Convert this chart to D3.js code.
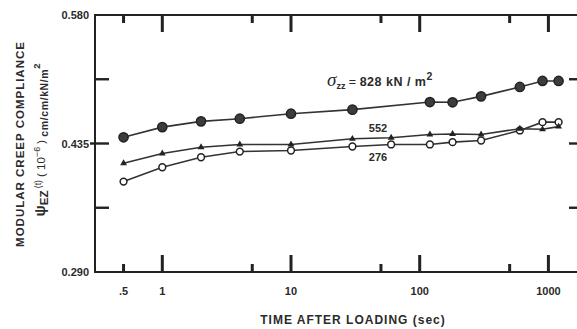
<!DOCTYPE html>
<html>
<head>
<meta charset="utf-8">
<script src="https://cdn.jsdelivr.net/npm/d3@7"></script>
<style>
body { margin: 0; background: #fff; }
svg text { font-family: "Liberation Sans", Arial, sans-serif; fill: #2b2b2b; font-weight: bold; }
</style>
</head>
<body>
<script>
window.document.addEventListener('DOMContentLoaded', init, false);

// time after loading (sec)
var times828 = [0.5, 1, 2, 4, 10, 30, 120, 180, 300, 600, 900, 1200];
var compliance828 = [0.442, 0.4535, 0.460, 0.463, 0.4686, 0.4732, 0.4818, 0.4815, 0.4882, 0.4988, 0.5056, 0.5056];

var times552 = [0.5, 1, 2, 4, 10, 30, 60, 120, 180, 300, 600, 900, 1200];
var compliance552 = [0.4127, 0.4237, 0.4308, 0.4339, 0.4339, 0.4403, 0.4415, 0.4452, 0.4458, 0.4452, 0.4517, 0.451, 0.454];

var times276 = [0.5, 1, 2, 4, 10, 30, 60, 120, 180, 300, 600, 900, 1200];
var compliance276 = [0.392, 0.4082, 0.4195, 0.4259, 0.4271, 0.4316, 0.4339, 0.4339, 0.4365, 0.4384, 0.4497, 0.4591, 0.4591];

var xMajorTicks = [1, 10, 100, 1000];
var xMinorTicks = [0.5, 5, 50, 500];
var xLabelTicks = [0.5, 1, 10, 100, 1000];
var xLabelText = ['.5', '1', '10', '100', '1000'];
var yMajorTicks = [0.290, 0.435, 0.580];
var yMinorTicks = [0.3625, 0.5075];

var svg;
var width = 577;
var height = 329;
var margin = {left: 95, top: 15, right: -3, bottom: 57};
var x, y;
var ink = '#222';

function init() {
    svg = createCanvas();
    x = d3.scaleLog().domain([0.3, 1760]).range([margin.left, width - margin.right]);
    y = d3.scaleLinear().domain([0.290, 0.580]).range([height - margin.bottom, margin.top]);
    drawAxes();
    drawSeries(times276, compliance276, 'open');
    drawSeries(times552, compliance552, 'triangle');
    drawSeries(times828, compliance828, 'filled');
    drawLabels();
}

function createCanvas() {
    return d3.select('body')
        .append('svg')
        .attr('width', width)
        .attr('height', height);
}

// vertical tick as a thin filled rect: from y0 over len pixels (len may be negative)
function vTicks(values, y0, len) {
    svg.append('g').selectAll('rect').data(values).enter().append('rect')
        .attr('x', function(d) { return x(d) - 1.5; })
        .attr('y', Math.min(y0, y0 + len))
        .attr('width', 3)
        .attr('height', Math.abs(len))
        .attr('fill', ink);
}

function hTicks(values, x0, len) {
    svg.append('g').selectAll('rect').data(values).enter().append('rect')
        .attr('x', Math.min(x0, x0 + len))
        .attr('y', function(d) { return y(d) - 1.2; })
        .attr('width', Math.abs(len))
        .attr('height', 2.4)
        .attr('fill', ink);
}

function drawAxes() {
    var bottom = height - margin.bottom;
    var top = margin.top;
    var left = margin.left;
    var right = width - margin.right;

    // frame
    svg.append('rect')
        .attr('x', left).attr('y', top)
        .attr('width', right - left).attr('height', bottom - top)
        .attr('fill', 'none').attr('stroke', ink).attr('stroke-width', 2);

    vTicks(xMajorTicks, bottom, -17);
    vTicks(xMinorTicks, bottom, -8);
    vTicks(xMajorTicks, top, 17);
    vTicks(xMinorTicks, top, 8);

    var inner = yMinorTicks.concat([0.435]);
    hTicks(inner, left, 14);
    hTicks([0.435], left, -5);
    hTicks(inner, right, -11);

    // labels
    svg.append('g').selectAll('text').data(xLabelTicks).enter().append('text')
        .attr('x', function(d) { return x(d); })
        .attr('y', bottom + 23)
        .attr('text-anchor', 'middle')
        .attr('font-size', 11)
        .text(function(d, i) { return xLabelText[i]; });

    svg.append('g').selectAll('text').data(yMajorTicks).enter().append('text')
        .attr('x', left - 6)
        .attr('y', function(d) { return y(d) + 4; })
        .attr('text-anchor', 'end')
        .attr('font-size', 11)
        .text(d3.format('.3f'));
}

function drawSeries(times, values, marker) {
    var pts = times.map(function(t, i) { return [t, values[i]]; });
    var line = d3.line().x(function(d) { return x(d[0]); }).y(function(d) { return y(d[1]); });

    svg.append('path')
        .datum(pts)
        .attr('d', line)
        .attr('fill', 'none')
        .attr('stroke', '#333')
        .attr('stroke-width', 1.6);

    var g = svg.append('g');
    if (marker === 'triangle') {
        g.selectAll('path').data(pts).enter().append('path')
            .attr('d', d3.symbol(d3.symbolTriangle).size(20))
            .attr('transform', function(d) { return 'translate(' + x(d[0]) + ',' + y(d[1]) + ')'; })
            .attr('fill', ink);
    } else {
        g.selectAll('circle').data(pts).enter().append('circle')
            .attr('cx', function(d) { return x(d[0]); })
            .attr('cy', function(d) { return y(d[1]); })
            .attr('r', marker === 'filled' ? 4.6 : 3.4)
            .attr('fill', marker === 'filled' ? '#3c3c3c' : '#fff')
            .attr('stroke', ink)
            .attr('stroke-width', 1.5);
    }
}

function drawLabels() {
    svg.append('text')
        .attr('x', 353).attr('y', 324)
        .attr('text-anchor', 'middle')
        .attr('font-size', 12)
        .attr('letter-spacing', 1)
        .text('TIME AFTER LOADING (sec)');

    // y title, two rotated lines
    svg.append('text')
        .attr('transform', 'translate(24,144) rotate(-90)')
        .attr('text-anchor', 'middle')
        .attr('font-size', 11.5)
        .attr('letter-spacing', 1)
        .text('MODULAR CREEP COMPLIANCE');

    var t2 = svg.append('text')
        .attr('transform', 'translate(45,140) rotate(-90)')
        .attr('text-anchor', 'middle')
        .attr('font-size', 11.5);
    t2.append('tspan').attr('font-size', 15).text('ψ');
    t2.append('tspan').attr('baseline-shift', '-3').text('EZ');
    t2.append('tspan').attr('font-size', 8.5).attr('font-weight', 'normal').attr('baseline-shift', '4').text(' (t)');
    t2.append('tspan').attr('font-weight', 'normal').text(' ( 10');
    t2.append('tspan').attr('font-size', 9).attr('font-weight', 'normal').attr('baseline-shift', '5').text('−6');
    t2.append('tspan').attr('font-weight', 'normal').text(' ) ');
    t2.append('tspan').attr('font-size', 10.5).attr('letter-spacing', 0.6).attr('baseline-shift', '-3').text('cm/cm/kN/m');
    t2.append('tspan').attr('font-size', 9.5).attr('baseline-shift', '5').text('2');

    var s = svg.append('text')
        .attr('x', 327).attr('y', 86)
        .attr('font-size', 12.5);
    s.append('tspan').attr('font-size', 19).attr('font-style', 'italic')
        .attr('font-family', '"Liberation Serif", serif').attr('font-weight', 'normal').text('σ');
    s.append('tspan').attr('font-size', 9).attr('baseline-shift', '-3').text('zz');
    s.append('tspan').attr('font-weight', 'normal').text(' = ');
    s.append('tspan').attr('letter-spacing', 0.5).text('828  kN / m');
    s.append('tspan').attr('font-size', 10.5).attr('baseline-shift', '6').text('2');

    svg.append('text').attr('x', 378).attr('y', 132).attr('text-anchor', 'middle')
        .attr('font-size', 11).text('552');
    svg.append('text').attr('x', 378).attr('y', 161).attr('text-anchor', 'middle')
        .attr('font-size', 11).text('276');
}
</script>
</body>
</html>
